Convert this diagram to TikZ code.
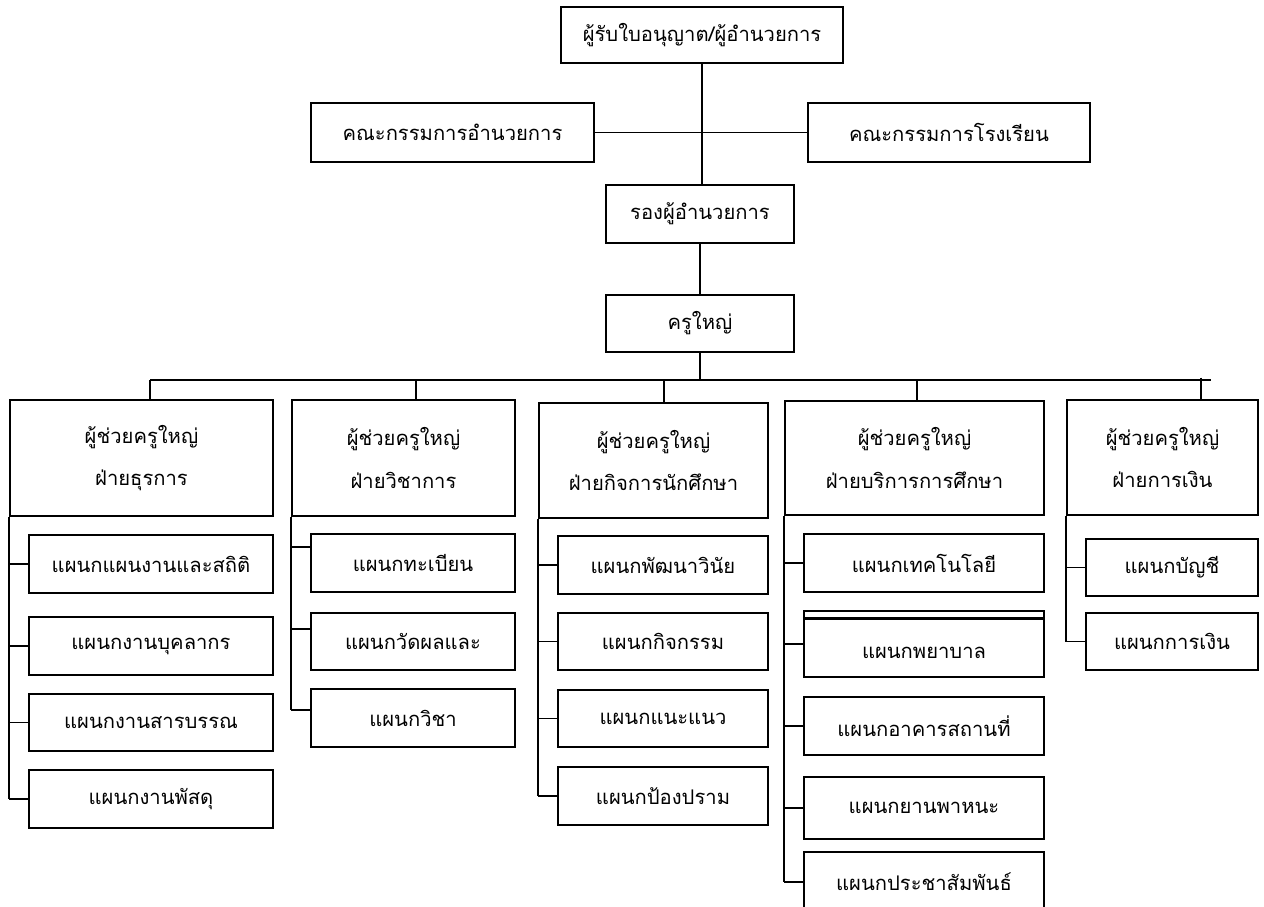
\documentclass[tikz,border=0pt]{standalone}
\usepackage{fontspec}
\newfontfamily\thaifont[Script=Thai]{Loma}
\usetikzlibrary{calc}
\tikzset{
	unitbox/.style={draw, line width=1.4pt, inner sep=0pt, align=center, font=\thaifont\fontsize{11.5}{24}\selectfont},
	link/.style={line width=1pt}
}
\def\orgbox(#1)(#2,#3,#4,#5)#6{\pgfmathsetmacro\bw{(#4-#2)*0.02}\pgfmathsetmacro\bh{(#5-#3)*0.02}\node[unitbox, minimum width=\bw cm, minimum height=\bh cm] (#1) at ({(#2+#4)/2},{(#3+#5)/2}) {#6};}

\begin{document}
\begin{tikzpicture}[x=0.02cm, y=-0.02cm]
				\useasboundingbox (0,0) rectangle (1264,906);
				
				\orgbox(top)(561,7,843,63){ผู้รับใบอนุญาต/ผู้อำนวยการ}
				\orgbox(cmtL)(311,103,594,162){คณะกรรมการอำนวยการ}
				\orgbox(cmtR)(808,103,1090,162){คณะกรรมการโรงเรียน}
				\orgbox(vice)(606,185,794,243){รองผู้อำนวยการ}
				\orgbox(kru)(606,295,794,352){ครูใหญ่}
				
				\draw[link] (top.south) -- (top.south |- vice.north);
				\draw[link] (cmtL.east) -- (cmtR.west);
				\draw[link] (vice.south) -- (kru.north);
				
				\coordinate (busL) at (150,380);
				\coordinate (busR) at (1211,380);
				\draw[link] (kru.south) -- (kru.south |- busL);
				\draw[link] (busL) -- (busR);
				
				\orgbox(h1)(10,400,273,516){ผู้ช่วยครูใหญ่\\ฝ่ายธุรการ}
				\orgbox(h2)(292,400,515,516){ผู้ช่วยครูใหญ่\\ฝ่ายวิชาการ}
				\orgbox(h3)(539,403,768,518){ผู้ช่วยครูใหญ่\\ฝ่ายกิจการนักศึกษา}
				\orgbox(h4)(785,401,1044,515){ผู้ช่วยครูใหญ่\\ฝ่ายบริการการศึกษา}
				\orgbox(h5)(1067,400,1258,515){ผู้ช่วยครูใหญ่\\ฝ่ายการเงิน}
				
				\coordinate (d1) at (150,380);
				\coordinate (d2) at (416,380);
				\coordinate (d3) at (664,380);
				\coordinate (d4) at (917,380);
				\coordinate (d5) at (1201,380);
				\draw[link] (d1) -- (d1 |- h1.north);
				\draw[link] (d2) -- (d2 |- h2.north);
				\draw[link] (d3) -- (d3 |- h3.north);
				\draw[link] (d4) -- (d4 |- h4.north);
				\draw[link] ([yshift=0.05cm]d5) -- (d5 |- h5.north);
				
				\orgbox(s11)(29,535,273,593){แผนกแผนงานและสถิติ}
				\orgbox(s12)(29,617,273,675){แผนกงานบุคลากร}
				\orgbox(s13)(29,694,273,751){แผนกงานสารบรรณ}
				\orgbox(s14)(29,770,273,828){แผนกงานพัสดุ}
				\draw[link] (h1.south west) -- (h1.south west |- s14.west);
				\draw[link] (s11.west) -- (s11.west -| h1.west);
				\draw[link] (s12.west) -- (s12.west -| h1.west);
				\draw[link] (s13.west) -- (s13.west -| h1.west);
				\draw[link] (s14.west) -- (s14.west -| h1.west);
				
				\orgbox(s21)(311,534,515,592){แผนกทะเบียน}
				\orgbox(s22)(311,613,515,670){แผนกวัดผลและ}
				\orgbox(s23)(311,689,515,747){แผนกวิชา}
				\draw[link] (h2.south west) -- ([yshift=0.16cm]s23.west -| h2.west);
				\draw[link] ([yshift=0.32cm]s21.west) -- ([yshift=0.32cm]s21.west -| h2.west);
				\draw[link] ([yshift=0.25cm]s22.west) -- ([yshift=0.25cm]s22.west -| h2.west);
				\draw[link] ([yshift=0.16cm]s23.west) -- ([yshift=0.16cm]s23.west -| h2.west);
				
				\orgbox(s31)(558,536,768,594){แผนกพัฒนาวินัย}
				\orgbox(s32)(558,613,768,670){แผนกกิจกรรม}
				\orgbox(s33)(558,690,768,747){แผนกแนะแนว}
				\orgbox(s34)(558,767,768,825){แผนกป้องปราม}
				\draw[link] (h3.south west) -- (h3.south west |- s34.west);
				\draw[link] (s31.west) -- (s31.west -| h3.west);
				\draw[link] (s32.west) -- (s32.west -| h3.west);
				\draw[link] (s33.west) -- (s33.west -| h3.west);
				\draw[link] (s34.west) -- (s34.west -| h3.west);
				
				\orgbox(s41)(804,534,1044,592){แผนกเทคโนโลยี}
				\orgbox(s42)(804,611,1044,677){\\[-8pt]แผนกพยาบาล}
				\orgbox(s43)(804,697,1044,755){แผนกอาคารสถานที่}
				\orgbox(s44)(804,777,1044,839){แผนกยานพาหนะ}
				\orgbox(s45)(804,852,1044,912){แผนกประชาสัมพันธ์}
				\draw[line width=1.4pt] ([yshift=-0.17cm]s42.north west) -- ([yshift=-0.17cm]s42.north east);
				\draw[link] (h4.south west) -- (h4.south west |- s45.west);
				\draw[link] (s41.west) -- (s41.west -| h4.west);
				\draw[link] (s42.west) -- (s42.west -| h4.west);
				\draw[link] (s43.west) -- (s43.west -| h4.west);
				\draw[link] (s44.west) -- (s44.west -| h4.west);
				\draw[link] (s45.west) -- (s45.west -| h4.west);
				
				\orgbox(s51)(1086,539,1258,596){แผนกบัญชี}
				\orgbox(s52)(1086,613,1258,670){แผนกการเงิน}
				\draw[link] (h5.south west) -- (h5.south west |- s52.west);
				\draw[link] (s51.west) -- (s51.west -| h5.west);
				\draw[link] (s52.west) -- (s52.west -| h5.west);
			\end{tikzpicture}
\end{document}
